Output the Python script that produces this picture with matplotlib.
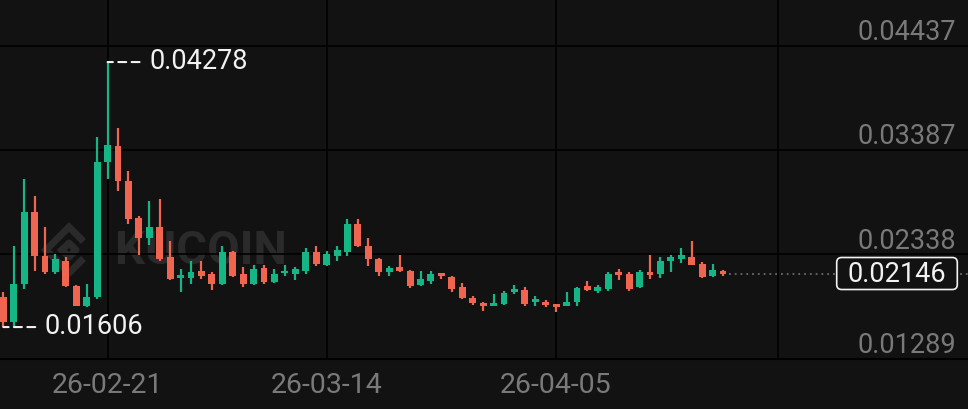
import numpy as np
import pandas as pd
import matplotlib
matplotlib.use('Agg')
import matplotlib.pyplot as plt
import matplotlib.dates as mdates
from matplotlib.patches import FancyBboxPatch
from matplotlib.lines import Line2D

# daily candles
dates = pd.date_range('2026-02-11', periods=70, freq='D')
opens = [0.01909, 0.01657, 0.02040, 0.02766, 0.02323, 0.02161, 0.02272, 0.02020, 0.01818, 0.01909,
         0.03270, 0.03432, 0.03079, 0.02706, 0.02504, 0.02615, 0.02312, 0.02101, 0.02101, 0.02171,
         0.02141, 0.02040, 0.02363, 0.02141, 0.02040, 0.02202, 0.02060, 0.02151, 0.02141, 0.02171,
         0.02363, 0.02232, 0.02323, 0.02363, 0.02645, 0.02423, 0.02292, 0.02161, 0.02212, 0.02171,
         0.02030, 0.02070, 0.02151, 0.02111, 0.02010, 0.01899, 0.01849, 0.01818, 0.01839, 0.01960,
         0.01980, 0.01859, 0.01859, 0.01839, 0.01818, 0.01859, 0.02020, 0.01970, 0.01990, 0.02161,
         0.02141, 0.02010, 0.02161, 0.02141, 0.02272, 0.02292, 0.02312, 0.02242, 0.02121, 0.02171]
closes = [0.01657, 0.02040, 0.02766, 0.02323, 0.02161, 0.02292, 0.02020, 0.01818, 0.01909, 0.03270,
          0.03442, 0.03079, 0.02696, 0.02504, 0.02615, 0.02292, 0.02091, 0.02131, 0.02161, 0.02121,
          0.02040, 0.02363, 0.02121, 0.02040, 0.02191, 0.02060, 0.02141, 0.02171, 0.02191, 0.02363,
          0.02242, 0.02343, 0.02383, 0.02645, 0.02423, 0.02292, 0.02161, 0.02202, 0.02171, 0.02020,
          0.02091, 0.02141, 0.02121, 0.01990, 0.01899, 0.01849, 0.01818, 0.01849, 0.01949, 0.01990,
          0.01839, 0.01879, 0.01828, 0.01808, 0.01859, 0.02000, 0.01980, 0.02010, 0.02141, 0.02131,
          0.01990, 0.02161, 0.02131, 0.02272, 0.02312, 0.02333, 0.02232, 0.02111, 0.02181, 0.02146]
highs = [0.01960, 0.02423, 0.03099, 0.02927, 0.02615, 0.02343, 0.02312, 0.02030, 0.02040, 0.03522,
         0.04278, 0.03613, 0.03180, 0.02726, 0.02877, 0.02897, 0.02474, 0.02191, 0.02272, 0.02272,
         0.02161, 0.02423, 0.02373, 0.02212, 0.02232, 0.02232, 0.02191, 0.02232, 0.02212, 0.02403,
         0.02423, 0.02373, 0.02423, 0.02696, 0.02696, 0.02504, 0.02302, 0.02222, 0.02333, 0.02181,
         0.02171, 0.02171, 0.02155, 0.02121, 0.02050, 0.01919, 0.01859, 0.01939, 0.01970, 0.02030,
         0.02010, 0.01919, 0.01879, 0.01842, 0.01960, 0.02010, 0.02070, 0.02030, 0.02161, 0.02191,
         0.02161, 0.02181, 0.02333, 0.02312, 0.02333, 0.02403, 0.02474, 0.02262, 0.02242, 0.02181]
lows = [0.01606, 0.01610, 0.01990, 0.02171, 0.02141, 0.02141, 0.02010, 0.01815, 0.01808, 0.01889,
        0.03099, 0.02978, 0.02645, 0.02333, 0.02433, 0.02272, 0.02081, 0.01960, 0.02040, 0.02091,
        0.01980, 0.02035, 0.02111, 0.02010, 0.02030, 0.02040, 0.02050, 0.02121, 0.02081, 0.02141,
        0.02222, 0.02222, 0.02272, 0.02323, 0.02413, 0.02222, 0.02121, 0.02121, 0.02161, 0.02000,
        0.02025, 0.02040, 0.02091, 0.01960, 0.01889, 0.01828, 0.01768, 0.01815, 0.01828, 0.01939,
        0.01818, 0.01818, 0.01808, 0.01758, 0.01815, 0.01818, 0.01970, 0.01949, 0.01970, 0.02081,
        0.01970, 0.02000, 0.02091, 0.02101, 0.02161, 0.02252, 0.02228, 0.02101, 0.02111, 0.02121]
price_levels = [0.01289, 0.02338, 0.03387, 0.04437]
tick_dates = ['2026-02-21', '2026-03-14', '2026-04-05']

BG = '#121212'
UP = '#16b586'
DOWN = '#f0654f'
LABEL = '#797979'
WM = '#2a2a2a'
num_font = 'Roboto'

o = np.array(opens)
c = np.array(closes)
h = np.array(highs)
l = np.array(lows)
x = mdates.date2num(dates)
colors = np.where(c >= o, UP, DOWN)

fig = plt.figure(figsize=(9.68, 4.10), dpi=100, facecolor=BG)
ax = fig.add_axes([0, 50.5 / 410, 1, 359.5 / 410])
ax.set_facecolor(BG)
ax.set_axisbelow(True)

ax.set_xlim(x[0] - 0.316, x[0] + 92.49)
ax.set_ylim(0.01289, 0.049138)

# watermark
ax.text(1.15, 1.59, 'KUCOIN', color=WM, fontsize=34, family=num_font,
        fontweight='bold', va='center', ha='left', zorder=0.3,
        transform=fig.dpi_scale_trans)
cx, cy, s = 0.69, 1.59, 0.23
ax.add_line(Line2D([cx + 0.12, cx, cx - s, cx, cx + 0.12],
                   [cy + s - 0.12, cy + s, cy, cy - s, cy - s + 0.12],
                   transform=fig.dpi_scale_trans, color=WM, lw=5, zorder=0.3,
                   solid_joinstyle='miter'))
ax.add_line(Line2D([cx - 0.07, cx, cx + 0.07, cx, cx - 0.07],
                   [cy, cy + 0.07, cy, cy - 0.07, cy],
                   transform=fig.dpi_scale_trans, color=WM, lw=5, zorder=0.3))

# candles
ax.vlines(x, l, h, colors=colors, lw=1.6, zorder=3)
body = np.maximum(np.abs(c - o), 0.00025)
ax.bar(x, body, bottom=np.minimum(o, c), width=0.66, color=colors, zorder=4)

# grid
ax.set_yticks(price_levels)
ax.set_xticks(mdates.date2num(pd.to_datetime(tick_dates)))
ax.xaxis.set_major_formatter(mdates.DateFormatter('%y-%m-%d'))
ax.grid(True, color='#000000', lw=1.2)
ax.tick_params(axis='y', length=0, labelleft=False)
ax.tick_params(axis='x', length=0, pad=9, labelsize=20.5, labelcolor=LABEL)
for t in ax.get_xticklabels():
    t.set_family(num_font)
for sp in ['top', 'left', 'right']:
    ax.spines[sp].set_visible(False)
ax.spines['bottom'].set_color('#000000')
ax.spines['bottom'].set_linewidth(1.5)
ax.plot([778 / 968, 778 / 968], [0, 1], transform=ax.transAxes, color='#000000',
        lw=1.2, zorder=1, clip_on=False)

# price scale labels
for lv in price_levels:
    ax.annotate(f'{lv:.5f}', xy=(956 / 968, lv), xycoords=('axes fraction', 'data'),
                xytext=(0, 5), textcoords='offset points', ha='right', va='baseline',
                color=LABEL, fontsize=19.5, family=num_font)

# high / low markers
ih = int(np.argmax(h))
il = int(np.argmin(l))
for i, val in [(ih, h[ih]), (il, l[il])]:
    ax.annotate('', xy=(x[i], val), xytext=(23, 0), textcoords='offset points',
                xycoords='data',
                arrowprops=dict(arrowstyle='-', color='#f2f2f2', lw=1.5,
                                ls=(0, (3.8, 2.6)), shrinkA=0, shrinkB=0), zorder=6)
    ax.annotate(f'{val:.5f}', xy=(x[i], val), xytext=(30, -4), textcoords='offset points',
                ha='left', va='baseline', color='#f2f2f2', fontsize=19.5,
                family=num_font, zorder=6)

# last price line + box
last = c[-1]
x0, x1 = ax.get_xlim()
ax.axhline(last, xmin=(x[-1] + 0.6 - x0) / (x1 - x0), xmax=1, color='#6a6a6a',
           lw=1.3, ls=(0, (1, 2.2)), zorder=2)
y_in = ax.transData.transform((x[-1], last))[1] / fig.dpi
box = FancyBboxPatch((8.367, y_in - 0.16), 1.206, 0.32,
                     boxstyle='round,pad=0,rounding_size=0.05',
                     transform=fig.dpi_scale_trans, fc=BG, ec='#f2f2f2', lw=1.2, zorder=7)
fig.add_artist(box)
fig.text(8.97 / 9.68, y_in / 4.10, f'{last:.5f}', ha='center', va='center',
         color='#f2f2f2', fontsize=19.5, family=num_font, zorder=8)

fig.savefig('out.png', dpi=100, facecolor=BG)
